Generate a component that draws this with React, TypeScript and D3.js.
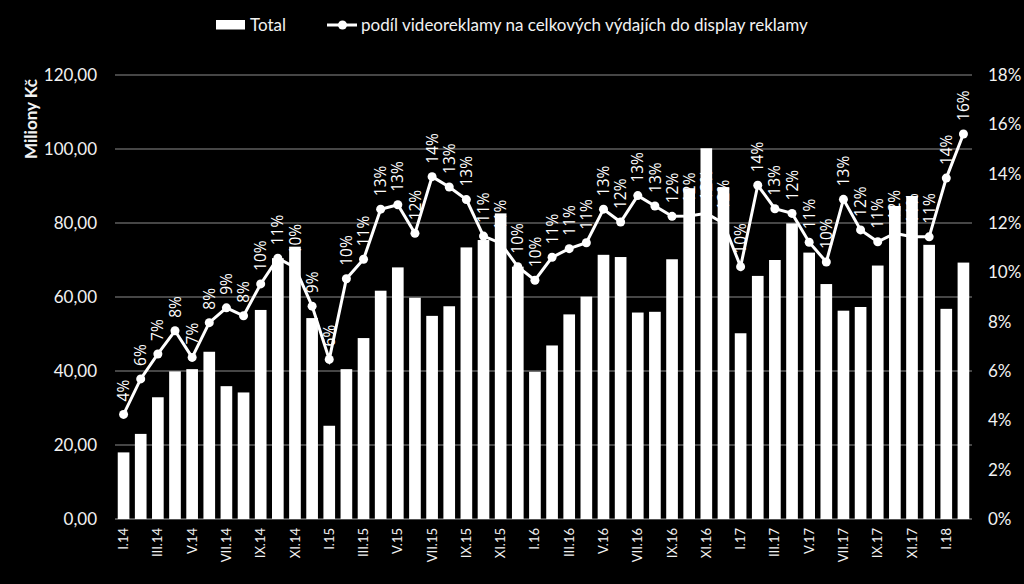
import React from "react";
import * as d3 from "d3";

const romans = ["I", "II", "III", "IV", "V", "VI", "VII", "VIII", "IX", "X", "XI", "XII"];
const years = ["14", "15", "16", "17", "18"];
const categories: string[] = [];
years.forEach((y) => romans.forEach((m) => categories.push(`${m}.${y}`)));
const months = categories.slice(0, 50);

const totals = [
  18.0, 23.0, 32.9, 39.9, 40.5, 45.2, 35.9, 34.2, 56.5, 70.5, 73.6, 54.3,
  25.2, 40.5, 48.9, 61.7, 68.0, 59.8, 54.9, 57.5, 73.4, 75.4, 82.6, 68.2,
  39.8, 46.9, 55.3, 60.1, 71.4, 70.8, 55.8, 56.0, 70.2, 89.4, 100.2, 89.7,
  50.2, 65.7, 70.0, 79.9, 72.0, 63.5, 56.3, 57.3, 68.5, 84.6, 87.3, 74.1,
  56.8, 69.3,
];

const shares = [
  4.24, 5.68, 6.69, 7.63, 6.55, 7.96, 8.56, 8.24, 9.53, 10.57, 10.2, 8.63,
  6.47, 9.74, 10.53, 12.56, 12.74, 11.58, 13.88, 13.46, 12.95, 11.47, 11.18, 10.23,
  9.68, 10.61, 10.96, 11.2, 12.56, 12.04, 13.11, 12.69, 12.27, 12.28, 12.39, 11.99,
  10.23, 13.53, 12.58, 12.39, 11.22, 10.42, 12.96, 11.72, 11.24, 11.58, 11.44, 11.44,
  13.82, 15.61,
].map((v) => v / 100);

const leftTicks = [0, 20, 40, 60, 80, 100, 120];
const rightTicks = [0, 0.02, 0.04, 0.06, 0.08, 0.1, 0.12, 0.14, 0.16, 0.18];
const legendLabels = ["Total", "podíl videoreklamy na celkových výdajích do display reklamy"];
const yTitle = "Miliony Kč";

const W = 1024;
const H = 584;
const left = 115;
const right = 972;
const top = 75;
const bottom = 519;
const FONT = "Lato, 'Open Sans', sans-serif";
const LABEL_FONT = "'Open Sans', Lato, sans-serif";

export default function App() {
  const x = d3.scaleBand<string>().domain(months).range([left, right]).paddingInner(0.32).paddingOuter(0.16);
  const y = d3.scaleLinear().domain([0, 120]).range([bottom, top]);
  const y2 = d3.scaleLinear().domain([0, 0.18]).range([bottom, top]);
  const fmtL = (v: number) => d3.format(".2f")(v).replace(".", ",");
  const fmtP = d3.format(".0%");
  const cx = (m: string) => (x(m) ?? 0) + x.bandwidth() / 2;
  const line = d3
    .line<number>()
    .x((_, i) => cx(months[i]))
    .y((d) => y2(d));

  return (
    <div style={{ position: "fixed", left: 0, top: 0, width: W, height: H, background: "#000" }}>
      <svg width={W} height={H} style={{ display: "block", background: "#000" }} fontFamily={FONT}>
        <rect x={0} y={0} width={W} height={H} fill="#000" />
        {/* gridlines */}
        {leftTicks.map((t) => (
          <line key={t} x1={left} x2={right} y1={y(t)} y2={y(t)} stroke={t === 0 ? "#a6a6a6" : "#8c8c8c"} strokeWidth={1} />
        ))}
        {/* left tick labels */}
        {leftTicks.map((t) => (
          <text key={"l" + t} x={97} y={y(t)} dy="0.35em" textAnchor="end" fill="#f2f2f2" fontSize={17}>
            {fmtL(t)}
          </text>
        ))}
        {/* right tick labels */}
        {rightTicks.map((t) => (
          <text key={"r" + t} x={988} y={y2(t)} dy="0.35em" textAnchor="start" fill="#f2f2f2" fontSize={17}>
            {fmtP(t)}
          </text>
        ))}
        {/* y title */}
        <text transform={`translate(37,119) rotate(-90)`} textAnchor="middle" fill="#f2f2f2" fontSize={17} fontWeight="bold">
          {yTitle}
        </text>
        {/* bars */}
        {months.map((m, i) => (
          <rect key={m} x={x(m)} y={y(totals[i])} width={x.bandwidth()} height={bottom - y(totals[i])} fill="#fff" />
        ))}
        {/* x labels */}
        {months.map((m, i) =>
          i % 2 === 0 ? (
            <text
              key={"x" + m}
              transform={`translate(${cx(m)},528) rotate(-90)`}
              textAnchor="end"
              dy="0.35em"
              fill="#f2f2f2"
              fontSize={13}
            >
              {m}
            </text>
          ) : null
        )}
        {/* line */}
        <path d={line(shares) ?? ""} fill="none" stroke="#fff" strokeWidth={3} />
        {shares.map((s, i) => (
          <circle key={"c" + i} cx={cx(months[i])} cy={y2(s)} r={4.5} fill="#fff" />
        ))}
        {shares.map((s, i) => (
          <text
            key={"t" + i}
            transform={`translate(${cx(months[i])},${y2(s) - 13}) rotate(-90)`}
            textAnchor="start"
            dy="0.36em"
            fill="#fff"
            fontSize={15.5}
            fontFamily={LABEL_FONT}
          >
            {fmtP(s)}
          </text>
        ))}
        {/* legend */}
        <rect x={216} y={20} width={29} height={9.5} fill="#fff" />
        <text x={250} y={30.5} fill="#f2f2f2" fontSize={17}>
          {legendLabels[0]}
        </text>
        <line x1={327} x2={357} y1={25} y2={25} stroke="#fff" strokeWidth={3} />
        <circle cx={342.5} cy={25} r={4.5} fill="#fff" />
        <text x={361} y={30.5} fill="#f2f2f2" fontSize={17}>
          {legendLabels[1]}
        </text>
      </svg>
    </div>
  );
}
